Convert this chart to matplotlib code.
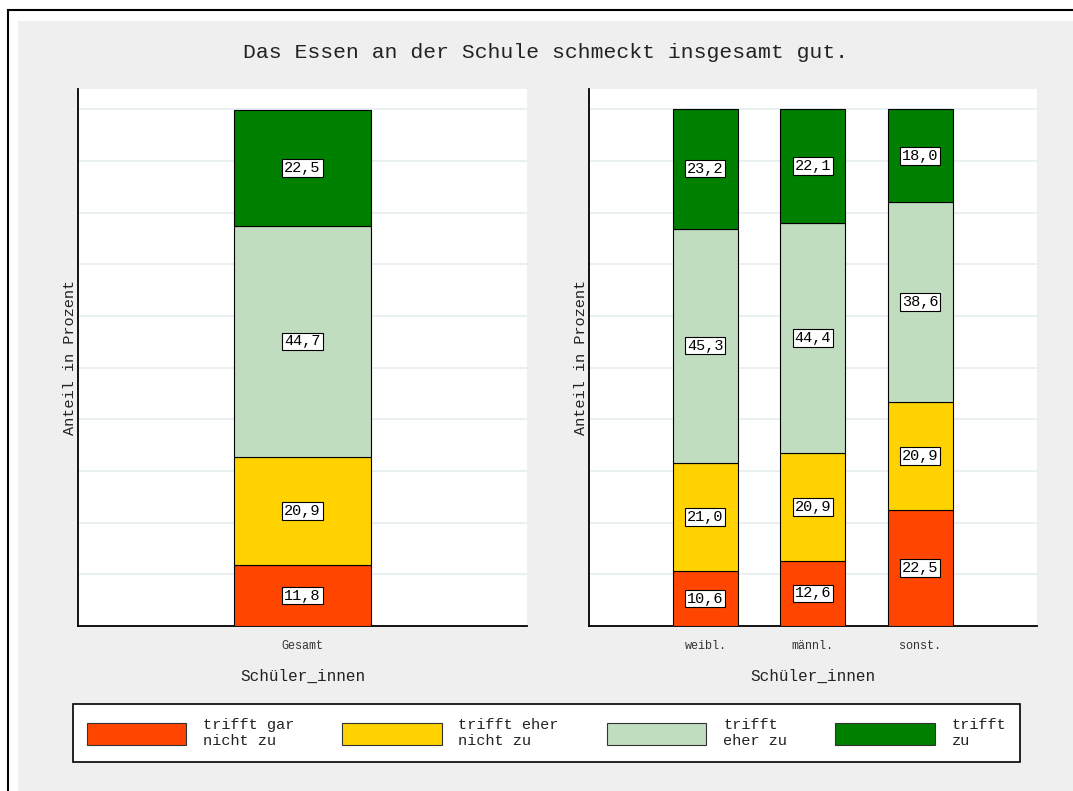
import numpy as np
import matplotlib.pyplot as plt
from matplotlib.patches import Rectangle, Patch

plt.rcParams['font.family'] = ['Liberation Mono', 'DejaVu Sans Mono']

# --- Daten ---
kategorien = ["trifft gar\nnicht zu", "trifft eher\nnicht zu", "trifft\neher zu", "trifft\nzu"]
farben = ["#ff4500", "#ffd200", "#c0ddc0", "#008000"]

gesamt_labels = ["Gesamt"]
gesamt_werte = [[11.8], [20.9], [44.7], [22.5]]

geschlecht_labels = ["weibl.", "männl.", "sonst."]
geschlecht_werte = [
    [10.6, 12.6, 22.5],
    [21.0, 20.9, 20.9],
    [45.3, 44.4, 38.6],
    [23.2, 22.1, 18.0],
]

W, H = 1073, 791
fig = plt.figure(figsize=(W / 100, H / 100), dpi=100)
fig.patch.set_facecolor("white")

# Hintergrund + Rahmen
fig.add_artist(Rectangle((18 / W, -0.01), 1.0, 1 - 21 / H + 0.01, transform=fig.transFigure,
                         facecolor="#efefef", edgecolor="none", zorder=0))
fig.add_artist(Rectangle((8 / W, -0.05), 1.2, 1 - 10 / H + 0.05, transform=fig.transFigure,
                         facecolor="none", edgecolor="black", lw=1.5, zorder=1))


def stacked(ax, labels, werte, xlim, breite):
    x = np.arange(len(labels))
    unten = np.zeros(len(labels))
    for vals, farbe in zip(werte, farben):
        vals = np.array(vals)
        ax.bar(x, vals, breite, bottom=unten, color=farbe, edgecolor="black", lw=0.8, zorder=3)
        for xi, b, v in zip(x, unten, vals):
            ax.text(xi, b + v / 2, f"{v:.1f}".replace(".", ","), ha="center", va="center",
                    fontsize=11, color="black", zorder=5,
                    bbox=dict(boxstyle="square,pad=0.12", fc="white", ec="black", lw=0.8))
        unten += vals
    ax.set_xlim(*xlim)
    ax.set_ylim(0, 103.9)
    ax.set_xticks(x)
    ax.set_xticklabels(labels, fontsize=8.5, color="#333333")
    ax.tick_params(axis="x", length=0, pad=10)
    ax.set_yticks(np.arange(10, 101, 10))
    ax.tick_params(axis="y", length=0, labelleft=False)
    ax.yaxis.grid(True, color="#e4eef0", lw=1.2, zorder=0)
    ax.set_axisbelow(True)
    for s in ["top", "right"]:
        ax.spines[s].set_visible(False)
    for s in ["left", "bottom"]:
        ax.spines[s].set_linewidth(1.3)
    ax.set_facecolor("white")
    ax.set_xlabel("Schüler_innen", fontsize=11.5, color="#222222", labelpad=12)
    ax.set_ylabel("Anteil in Prozent", fontsize=11, color="#222222", labelpad=1)


ax1 = fig.add_axes([78 / W, 165 / H, 449 / W, 537 / H])
stacked(ax1, gesamt_labels, gesamt_werte, (-1, 1), 0.61)

ax2 = fig.add_axes([589 / W, 165 / H, 448 / W, 537 / H])
stacked(ax2, geschlecht_labels, geschlecht_werte, (-1.084, 3.088), 0.605)

fig.text(546 / W, 1 - 52 / H, "Das Essen an der Schule schmeckt insgesamt gut.",
         ha="center", va="center", fontsize=15.4, color="#222222")

handles = [Patch(facecolor=f, edgecolor="#333333", lw=0.8) for f in farben]
leg = fig.legend(handles, kategorien, ncol=4, loc="lower left",
                 bbox_to_anchor=(73 / W, 1 - 762 / H, 947 / W, 57 / H), mode="expand",
                 fontsize=11, handlelength=6.5, handleheight=1.8, handletextpad=1.1,
                 borderaxespad=0, borderpad=0.9, fancybox=False, framealpha=1,
                 edgecolor="black", facecolor="white")
leg.get_frame().set_linewidth(1.2)
for t in leg.get_texts():
    t.set_color("#222222")

fig.savefig("out.png", dpi=100)
